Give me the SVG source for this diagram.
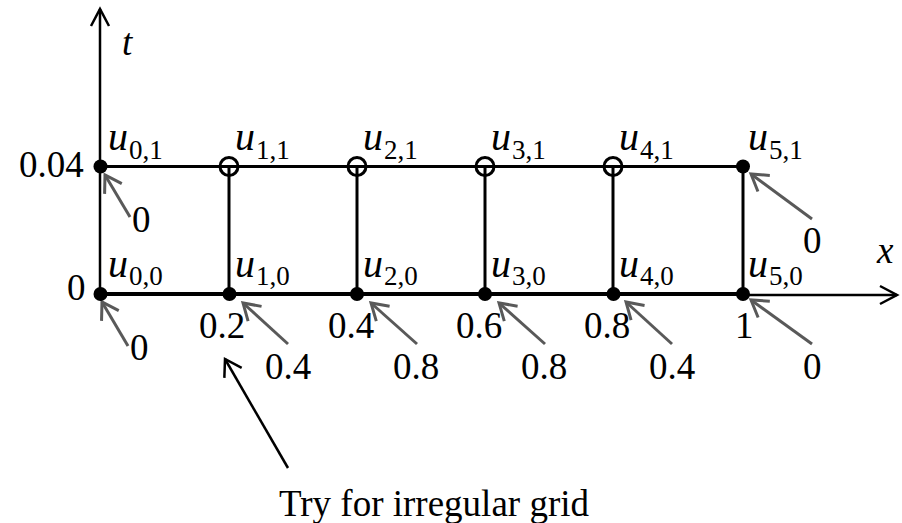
<svg xmlns="http://www.w3.org/2000/svg" width="902" height="523" viewBox="0 0 902 523">
<style>
text{font-family:"Liberation Serif","Times New Roman",serif;font-size:37px;fill:#000}
.it{font-style:italic}
.u{font-style:italic;font-size:40px}
.sub{font-size:27px;font-style:normal}
.grid{stroke:#000;stroke-width:3;fill:none}
.base{stroke:#000;stroke-width:4;fill:none}
.axis{stroke:#000;stroke-width:2.5;fill:none}
.ga{stroke:#595959;stroke-width:3;fill:none;marker-end:url(#mg)}
.ba{stroke:#000;stroke-width:2.5;fill:none;marker-end:url(#mb)}
.dot{fill:#000}
.open{fill:none;stroke:#000;stroke-width:3}
</style>
<defs>
<marker id="mg" markerUnits="userSpaceOnUse" viewBox="-20 -12 24 24" markerWidth="24" markerHeight="24" refX="0" refY="0" orient="auto"><path d="M-16,-10 L0,0 L-16,10" fill="none" stroke="#595959" stroke-width="3"/></marker>
<marker id="mb" markerUnits="userSpaceOnUse" viewBox="-20 -12 24 24" markerWidth="24" markerHeight="24" refX="0" refY="0" orient="auto"><path d="M-16,-10 L0,0 L-16,10" fill="none" stroke="#000" stroke-width="2.5"/></marker>
<marker id="ma" markerUnits="userSpaceOnUse" viewBox="-20 -12 24 24" markerWidth="24" markerHeight="24" refX="0" refY="0" orient="auto"><path d="M-17,-9 L0,0 L-17,9" fill="none" stroke="#000" stroke-width="2.5"/></marker>
</defs>
<g id="axes">
<line class="axis" x1="100" y1="294" x2="100" y2="9" marker-end="url(#ma)"/>
<line class="axis" x1="743" y1="295" x2="897" y2="295" marker-end="url(#ma)"/>
<text class="it" x="122" y="55">t</text>
<text class="it" x="877" y="263">x</text>
<text x="19" y="177">0.04</text>
<text x="67" y="300">0</text>
<text x="199" y="338">0.2</text>
<text x="328" y="338">0.4</text>
<text x="456" y="338">0.6</text>
<text x="584" y="338">0.8</text>
<text x="735" y="338">1</text>
</g>
<g id="connectors">
<line class="grid" x1="100" y1="166.5" x2="743" y2="166.5"/>
<line class="base" x1="100" y1="294" x2="743" y2="294"/>
<line class="grid" x1="229" y1="166.5" x2="229" y2="294"/>
<line class="grid" x1="357" y1="166.5" x2="357" y2="294"/>
<line class="grid" x1="485" y1="166.5" x2="485" y2="294"/>
<line class="grid" x1="613" y1="166.5" x2="613" y2="294"/>
<line class="grid" x1="743" y1="166.5" x2="743" y2="294"/>
<line class="ga" x1="130" y1="217" x2="105" y2="175"/>
<line class="ga" x1="128" y1="346" x2="102" y2="302"/>
<line class="ga" x1="288" y1="344" x2="243" y2="303"/>
<line class="ga" x1="417" y1="344" x2="371" y2="303"/>
<line class="ga" x1="545" y1="344" x2="499" y2="303"/>
<line class="ga" x1="672" y1="344" x2="626" y2="302"/>
<line class="ga" x1="812" y1="344" x2="751" y2="300"/>
<line class="ga" x1="812" y1="219" x2="751" y2="174"/>
<line class="ba" x1="288" y1="468" x2="225" y2="359"/>
</g>
<g id="n00"><circle class="dot" cx="100.5" cy="294" r="7"/><text x="108" y="277"><tspan class="u">u</tspan><tspan class="sub" dx="1" dy="8">0,0</tspan></text><text x="130" y="360">0</text></g>
<g id="n10"><circle class="dot" cx="229.5" cy="294" r="7"/><text x="235" y="277"><tspan class="u">u</tspan><tspan class="sub" dx="1" dy="8">1,0</tspan></text><text x="265" y="379">0.4</text></g>
<g id="n20"><circle class="dot" cx="357" cy="294" r="7"/><text x="363" y="277"><tspan class="u">u</tspan><tspan class="sub" dx="1" dy="8">2,0</tspan></text><text x="393" y="379">0.8</text></g>
<g id="n30"><circle class="dot" cx="485" cy="294" r="7"/><text x="491" y="277"><tspan class="u">u</tspan><tspan class="sub" dx="1" dy="8">3,0</tspan></text><text x="521" y="379">0.8</text></g>
<g id="n40"><circle class="dot" cx="613.5" cy="294" r="7"/><text x="619" y="277"><tspan class="u">u</tspan><tspan class="sub" dx="1" dy="8">4,0</tspan></text><text x="649" y="379">0.4</text></g>
<g id="n50"><circle class="dot" cx="743" cy="294" r="7"/><text x="748" y="277"><tspan class="u">u</tspan><tspan class="sub" dx="1" dy="8">5,0</tspan></text><text x="803" y="379">0</text></g>
<g id="n01"><circle class="dot" cx="100.5" cy="166.5" r="7"/><text x="108" y="150"><tspan class="u">u</tspan><tspan class="sub" dx="1" dy="9">0,1</tspan></text><text x="132" y="232">0</text></g>
<g id="n11"><circle class="open" cx="229" cy="166.5" r="9"/><text x="235" y="150"><tspan class="u">u</tspan><tspan class="sub" dx="1" dy="9">1,1</tspan></text></g>
<g id="n21"><circle class="open" cx="357" cy="166.5" r="9"/><text x="363" y="150"><tspan class="u">u</tspan><tspan class="sub" dx="1" dy="9">2,1</tspan></text></g>
<g id="n31"><circle class="open" cx="485" cy="166.5" r="9"/><text x="491" y="150"><tspan class="u">u</tspan><tspan class="sub" dx="1" dy="9">3,1</tspan></text></g>
<g id="n41"><circle class="open" cx="613" cy="166.5" r="9"/><text x="619" y="150"><tspan class="u">u</tspan><tspan class="sub" dx="1" dy="9">4,1</tspan></text></g>
<g id="n51"><circle class="dot" cx="743" cy="166.5" r="7"/><text x="748" y="150"><tspan class="u">u</tspan><tspan class="sub" dx="1" dy="9">5,1</tspan></text><text x="803" y="253">0</text></g>
<g id="note"><text x="279" y="516">Try for irregular grid</text></g>
</svg>
